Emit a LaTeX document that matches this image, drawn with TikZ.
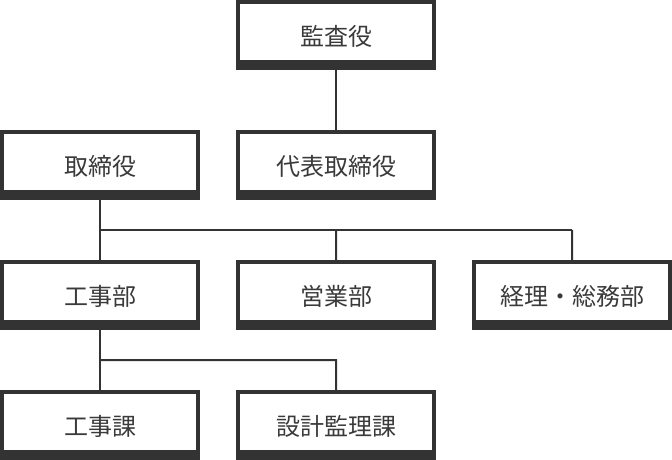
\documentclass[tikz,border=0pt]{standalone}
\usepackage{fontspec}
\newfontfamily\cjk{Noto Sans CJK JP}
\definecolor{dark}{HTML}{333333}
\definecolor{txt}{HTML}{3A3A3A}
\tikzset{
  outer/.style={fill=dark, draw=none, minimum width=200pt, minimum height=70pt, inner sep=0pt, anchor=north west, rectangle},
  inner/.style={fill=white, draw=none, minimum width=192pt, minimum height=56pt, inner sep=0pt, anchor=north west, rectangle},
  label/.style={text=txt, font=\cjk\fontsize{24}{28}\selectfont, inner sep=0pt},
  conn/.style={draw=dark, line width=2pt}
}
\newcommand{\orgbox}[4]{%
  \node[outer] (#1) at (#2,#3) {};
  \node[inner] (#1-in) at (#2+4,#3+4) {};
  \node[label] (#1-t) at (#2+100,#3+36) {#4};
}
\begin{document}
\begin{tikzpicture}[x=1pt,y=-1pt]
\useasboundingbox (0,0) rectangle (672,460);
\orgbox{kansa}{236}{0}{監査役}
\orgbox{torishimari}{0}{130}{取締役}
\orgbox{daihyo}{236}{130}{代表取締役}
\orgbox{kouji}{0}{260}{工事部}
\orgbox{eigyo}{236}{260}{営業部}
\orgbox{keiri}{472}{260}{経理・総務部}
\orgbox{koujika}{0}{390}{工事課}
\orgbox{sekkei}{236}{390}{設計監理課}
\coordinate (j1) at (100,230);
\coordinate (j2) at (336,230);
\coordinate (j3) at (572,230);
\coordinate (k1) at (100,360);
\coordinate (k2) at (336,360);
\draw[conn] (kansa.south) -- (daihyo.north);
\draw[conn] (torishimari.south) -- (kouji.north);
\draw[conn] (j1) -- (j3);
\draw[conn] (j2) -- (eigyo.north);
\draw[conn] (j3) -- (keiri.north);
\draw[conn] (kouji.south) -- (koujika.north);
\draw[conn] (k1) -- (k2) -- (sekkei.north);
\end{tikzpicture}
\end{document}
